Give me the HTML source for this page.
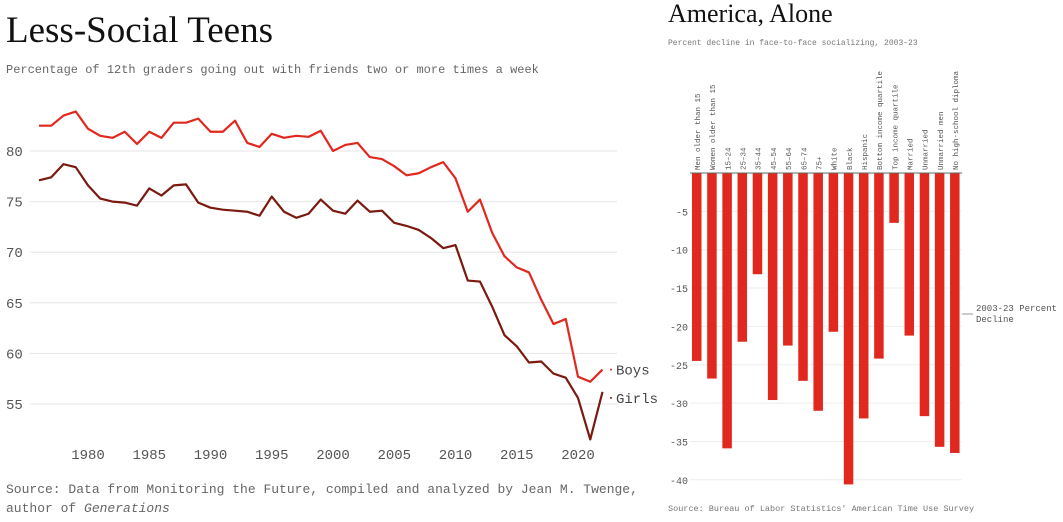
<!DOCTYPE html>
<html><head><meta charset="utf-8"><style>
body{margin:0;background:#fff;width:1063px;height:517px;overflow:hidden;}
svg text{font-family:"Liberation Mono",monospace;}
</style></head><body>
<svg width="1063" height="517" xmlns="http://www.w3.org/2000/svg" id="root">
<text x="6" y="42" style="font-family:'Liberation Serif',serif" font-size="37" fill="#111">Less-Social Teens</text>
<text x="6" y="73" font-size="12" fill="#666">Percentage of 12th graders going out with friends two or more times a week</text>
<g id="left"></g>
<text x="6" y="493" font-size="13" fill="#666">Source: Data from Monitoring the Future, compiled and analyzed by Jean M. Twenge,</text>
<text x="6" y="512" font-size="13" fill="#666">author of <tspan font-style="italic">Generations</tspan></text>
<text x="668" y="22" style="font-family:'Liberation Serif',serif" font-size="26" fill="#111">America, Alone</text>
<text x="668" y="45" font-size="8" fill="#777">Percent decline in face-to-face socializing, 2003–23</text>
<g id="right"></g>
<text x="668" y="511" font-size="8.5" fill="#777">Source: Bureau of Labor Statistics' American Time Use Survey</text>
</svg>
<script>
const years=[];for(let y=1976;y<=2022;y++)years.push(y);
const boys=[82.5,82.5,83.5,83.9,82.2,81.5,81.3,81.9,80.7,81.9,81.3,82.8,82.8,83.2,81.9,81.9,83.0,80.8,80.4,81.7,81.3,81.5,81.4,82.0,80.0,80.6,80.8,79.4,79.2,78.5,77.6,77.8,78.4,78.9,77.3,74.0,75.2,71.9,69.6,68.5,68.0,65.3,62.9,63.4,57.7,57.2,58.4];
const girls=[77.1,77.4,78.7,78.4,76.6,75.3,75.0,74.9,74.6,76.3,75.6,76.6,76.7,74.9,74.4,74.2,74.1,74.0,73.6,75.5,74.0,73.4,73.8,75.2,74.1,73.8,75.1,74.0,74.1,72.9,72.6,72.2,71.4,70.4,70.7,67.2,67.1,64.6,61.8,60.7,59.1,59.2,58.0,57.6,55.6,51.5,56.2];
const yTicks=[55,60,65,70,75,80];
const xTicks=[1980,1985,1990,1995,2000,2005,2010,2015,2020];
const cats=["Men older than 15","Women older than 15","15–24","25–34","35–44","45–54","55–64","65–74","75+","White","Black","Hispanic","Bottom income quartile","Top income quartile","Married","Unmarried","Unmarried men","No high-school diploma"];
const vals=[-24.5,-26.8,-35.9,-22,-13.2,-29.6,-22.5,-27.1,-31,-20.7,-40.6,-32,-24.2,-6.5,-21.2,-31.7,-35.7,-36.5];
const bTicks=[-5,-10,-15,-20,-25,-30,-35,-40];
const NS='http://www.w3.org/2000/svg';
function mk(p,t,a,txt){const e=document.createElementNS(NS,t);for(const k in a)e.setAttribute(k,a[k]);if(txt!==undefined)e.textContent=txt;p.appendChild(e);return e;}
const L=document.getElementById('left');
const xs=y=>88+(y-1980)*12.25, ys=v=>151-(v-80)*10.12;
yTicks.forEach(t=>{const g=mk(L,'line',{x1:30,x2:617,y1:ys(t),y2:ys(t),stroke:'#e6e6e6','stroke-width':1});


const tx=mk(L,'text',{x:6,y:ys(t)+5,'font-size':14,fill:'#555'},t);

});
xTicks.forEach(t=>{const tx=mk(L,'text',{x:xs(t),y:459,'font-size':14,fill:'#555','text-anchor':'middle'},t);

});
function line(d,c,n){const p=mk(L,'polyline',{points:d.map((v,i)=>xs(years[i])+','+ys(v)).join(' '),fill:'none',stroke:c,'stroke-width':2.2,'stroke-linejoin':'round'});

}
line(boys,'#e0281f','boys-line');line(girls,'#7a1a10','girls-line');
const lb=mk(L,'text',{x:616,y:ys(boys[boys.length-1])+5,'font-size':14,fill:'#444'},'Boys');


const lg=mk(L,'text',{x:616,y:ys(girls[girls.length-1])+11,'font-size':14,fill:'#444'},'Girls');


mk(L,'circle',{cx:611,cy:ys(boys[boys.length-1]),r:1,fill:'#e0281f'});
mk(L,'circle',{cx:611,cy:ys(girls[girls.length-1])+6,r:1,fill:'#7a1a10'});
const R=document.getElementById('right');
const by=v=>173-v*7.67, bx=i=>692+i*15.18;
bTicks.forEach(t=>{const g=mk(R,'line',{x1:690,x2:962,y1:by(t),y2:by(t),stroke:'#eee'});


const tx=mk(R,'text',{x:688,y:by(t)+4,'font-size':10,fill:'#555','text-anchor':'end'},t);

});
vals.forEach((v,i)=>{const r=mk(R,'rect',{x:bx(i),y:by(0),width:9.5,height:by(v)-by(0),fill:'#e0281f'});


const tx=mk(R,'text',{transform:`translate(${bx(i)+8},170) rotate(-90)`,'font-size':7.5,fill:'#555'},cats[i]);

});
const z=mk(R,'line',{x1:690,x2:962,y1:by(0),y2:by(0),stroke:'#666','stroke-width':1});


mk(R,'line',{x1:962,x2:973,y1:314,y2:314,stroke:'#999'});
const a=mk(R,'text',{x:976,y:311,'font-size':9,fill:'#555'},'2003-23 Percent');


mk(R,'text',{x:976,y:322,'font-size':9,fill:'#555'},'Decline');
</script>
</body></html>
